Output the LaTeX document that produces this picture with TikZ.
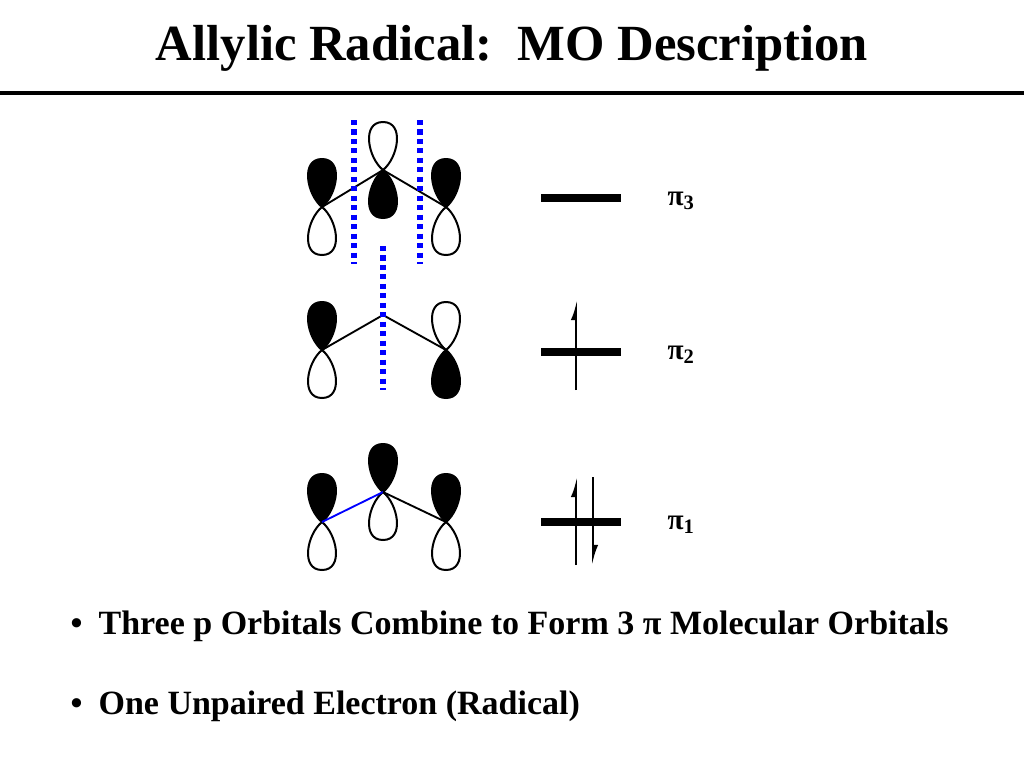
\documentclass[tikz,border=0pt]{standalone}
\usepackage{fontspec}
\setmainfont{Liberation Serif}
\usetikzlibrary{arrows.meta}
% one p lobe: x, y, direction (1 up, -1 down), fill
\newcommand{\plobe}[4]{\draw[lobe,fill=#4,shift={(#1,#2)},yscale=#3]
  (0,0) .. controls (-15,-12) and (-22,-48) .. (0,-48) .. controls (22,-48) and (15,-12) .. (0,0);}

\begin{document}
\begin{tikzpicture}[x=0.75pt,y=-0.75pt,
  lobe/.style={line width=1.5pt,line join=round},
  bond/.style={line width=1.4pt},
  nodal/.style={blue,line width=3.8pt,dash pattern=on 3.8pt off 3.3pt},
  level/.style={line width=6pt},
  spin/.style={line width=1.4pt,-{Latex[harpoon,length=12pt,width=8pt]}},
  lbl/.style={font=\bfseries\fontsize{22}{26}\selectfont}]

  \useasboundingbox (0,0) rectangle (1024,768);
  \node (title) at (512,48) {\bfseries\fontsize{38}{44}\selectfont Allylic Radical:\ \ MO Description};
  \draw[line width=2.5pt] (0,93) -- (1024,93);

  % pi3
  \coordinate (a1) at (322,207); \coordinate (b1) at (383,170); \coordinate (c1) at (446,207);
  \plobe{322}{207}{1}{black} \plobe{322}{207}{-1}{white}
  \plobe{383}{170}{1}{white} \plobe{383}{170}{-1}{black}
  \plobe{446}{207}{1}{black} \plobe{446}{207}{-1}{white}
  \draw[bond] (a1) -- (b1) -- (c1);
  \draw[nodal] (354,120) -- (354,264);
  \draw[nodal] (420,120) -- (420,264);

  % pi2
  \coordinate (a2) at (322,350); \coordinate (b2) at (383,315); \coordinate (c2) at (446,350);
  \plobe{322}{350}{1}{black} \plobe{322}{350}{-1}{white}
  \plobe{446}{350}{1}{white} \plobe{446}{350}{-1}{black}
  \draw[bond] (a2) -- (b2) -- (c2);
  \draw[nodal] (383,246) -- (383,390);

  % pi1
  \coordinate (a3) at (322,522); \coordinate (b3) at (383,492); \coordinate (c3) at (446,522);
  \plobe{322}{522}{1}{black} \plobe{322}{522}{-1}{white}
  \plobe{383}{492}{1}{black} \plobe{383}{492}{-1}{white}
  \plobe{446}{522}{1}{black} \plobe{446}{522}{-1}{white}
  \draw[bond,blue] (a3) -- (b3);
  \draw[bond] (b3) -- (c3);

  % levels
  \draw[level] (541,198) -- (621,198);
  \node[lbl] (p3) at (681,201) {π\textsubscript{3}};
  \draw[level] (541,352) -- (621,352);
  \coordinate (u2s) at (576,390); \coordinate (u2e) at (576,300);
  \draw[spin] (u2s) -- (u2e);
  \node[lbl] (p2) at (681,355) {π\textsubscript{2}};
  \draw[level] (541,522) -- (621,522);
  \coordinate (u1s) at (576,565); \coordinate (u1e) at (576,477);
  \coordinate (d1s) at (593,477); \coordinate (d1e) at (593,565);
  \draw[spin] (u1s) -- (u1e);
  \draw[spin] (d1s) -- (d1e);
  \node[lbl] (p1) at (681,525) {π\textsubscript{1}};

  % bullets
  \node[anchor=west,font=\bfseries\fontsize{25.5}{30}\selectfont] (t1) at (66,626)
    {•\hspace{12pt}Three p Orbitals Combine to Form 3 π Molecular Orbitals};
  \node[anchor=west,font=\bfseries\fontsize{25.5}{30}\selectfont] (t2) at (66,706)
    {•\hspace{12pt}One Unpaired Electron (Radical)};
\end{tikzpicture}
\end{document}
